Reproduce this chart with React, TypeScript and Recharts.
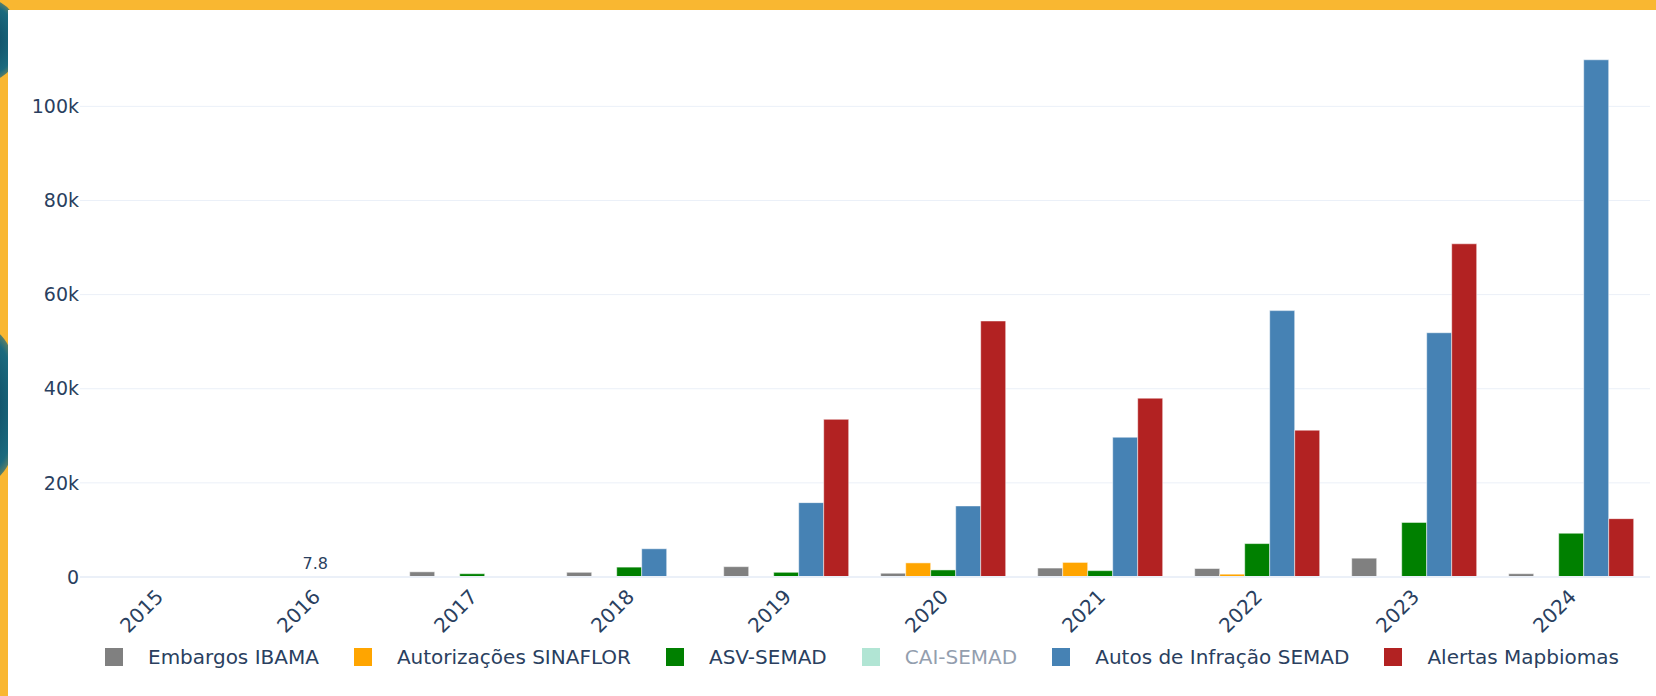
import { BarChart, Bar, XAxis, YAxis, CartesianGrid, ReferenceLine, LabelList } from 'recharts';

// ── Data ──────────────────────────────────────────────────────────────────────

const years = ['2015', '2016', '2017', '2018', '2019', '2020', '2021', '2022', '2023', '2024'];

const embargosIbama    = [40, 60, 1100, 1000, 2200, 800, 1900, 1800, 4000, 700];
const autorizacoes     = [0, 0, 0, 100, 100, 3000, 3100, 600, 0, 0];
const asvSemad         = [0, 7.8, 700, 2100, 1000, 1500, 1350, 7100, 11600, 9300];
const autosInfracao    = [0, 0, 0, 6000, 15800, 15100, 29700, 56600, 51900, 109900];
const alertasMapbiomas = [0, 0, 0, 0, 33500, 54400, 38000, 31200, 70800, 12400];

// text shown above the ASV-SEMAD bars
const asvText = ['', '7.8', '', '', '', '', '', '', '', ''];

const yTicks = [0, 20000, 40000, 60000, 80000, 100000];

const series = [
    { key: 'embargos', name: 'Embargos IBAMA',          color: '#808080', hidden: false },
    { key: 'sinaflor', name: 'Autorizações SINAFLOR',   color: '#FFA500', hidden: false },
    { key: 'asv',      name: 'ASV-SEMAD',               color: '#008000', hidden: false },
    { key: 'cai',      name: 'CAI-SEMAD',               color: '#66CDAA', hidden: true },
    { key: 'autos',    name: 'Autos de Infração SEMAD', color: '#4682B4', hidden: false },
    { key: 'alertas',  name: 'Alertas Mapbiomas',       color: '#B22222', hidden: false },
];

const data = years.map((year, i) => ({
    year,
    embargos: embargosIbama[i],
    sinaflor: autorizacoes[i],
    asv:      asvSemad[i],
    asvLabel: asvText[i],
    autos:    autosInfracao[i],
    alertas:  alertasMapbiomas[i],
}));

const FONT = '"DejaVu Sans", Verdana, sans-serif';
const TEXT = '#2a3f5f';
const GRID = '#EBF0F8';

// ── Ticks / labels ────────────────────────────────────────────────────────────

function YearTick({ x, y, payload }: any) {
    const px = x + 6;
    const py = y + 21;
    return (
        <text
            x={px}
            y={py}
            transform={`rotate(-45, ${px}, ${py})`}
            textAnchor="end"
            fill={TEXT}
            fontSize={20}
            fontFamily={FONT}
        >
            {payload.value}
        </text>
    );
}

function AsvLabel({ x, y, width, value }: any) {
    if (!value) return null;
    return (
        <text
            x={x + width / 2}
            y={y - 8}
            textAnchor="middle"
            fill={TEXT}
            fontSize={16}
            fontFamily={FONT}
        >
            {value}
        </text>
    );
}

function Legend() {
    return (
        <div
            style={{
                position: 'absolute',
                left: 105,
                top: 648,
                display: 'flex',
                alignItems: 'center',
                fontFamily: FONT,
                fontSize: 20,
                color: TEXT,
                whiteSpace: 'nowrap',
            }}
        >
            {series.map((s) => (
                <div
                    key={s.key}
                    style={{
                        display: 'flex',
                        alignItems: 'center',
                        marginRight: 35,
                        opacity: s.hidden ? 0.5 : 1,
                    }}
                >
                    <span
                        style={{
                            width: 18,
                            height: 18,
                            background: s.color,
                            marginRight: 25,
                            display: 'inline-block',
                        }}
                    />
                    <span style={{ lineHeight: '18px' }}>{s.name}</span>
                </div>
            ))}
        </div>
    );
}

// ── Component ─────────────────────────────────────────────────────────────────

export default function App() {
    return (
        <div
            style={{
                position: 'absolute',
                left: 0,
                top: 0,
                width: 1656,
                height: 696,
                overflow: 'hidden',
                background: '#F9B731',
            }}
        >
            {/* dark bits of the backdrop peeking out on the left */}
            <div style={{ position: 'absolute', left: -40, top: 0, width: 60, height: 80, borderRadius: '50%', background: 'radial-gradient(#0d4a63, #1b6a7e 60%, rgba(249,183,49,0) 100%)' }} />
            <div style={{ position: 'absolute', left: -40, top: 330, width: 60, height: 150, borderRadius: '50%', background: 'radial-gradient(#0d4a63, #1b6a7e 60%, rgba(249,183,49,0) 100%)' }} />

            <div style={{ position: 'absolute', left: 8, top: 10, right: 0, bottom: 0, background: '#fff' }} />

            <div style={{ position: 'absolute', left: 0, top: 0 }}>
                <BarChart
                    width={1656}
                    height={696}
                    data={data}
                    margin={{ top: 32, right: 6, left: 10, bottom: 0 }}
                    barCategoryGap="10%"
                    barGap={0}
                >
                    <CartesianGrid
                        horizontal
                        vertical={false}
                        horizontalValues={yTicks}
                        stroke={GRID}
                        strokeWidth={1}
                    />
                    <XAxis
                        dataKey="year"
                        height={119}
                        axisLine={false}
                        tickLine={false}
                        tickSize={0}
                        tickMargin={0}
                        interval={0}
                        tick={<YearTick />}
                    />
                    <YAxis
                        width={70}
                        domain={[0, 115800]}
                        ticks={yTicks}
                        axisLine={false}
                        tickLine={false}
                        tickSize={0}
                        tickMargin={1}
                        tickFormatter={(v: number) => (v === 0 ? '0' : `${v / 1000}k`)}
                        tick={{ fill: TEXT, fontSize: 19, fontFamily: FONT }}
                    />
                    <ReferenceLine y={0} stroke={GRID} strokeWidth={2} />
                    {series.filter((s) => !s.hidden).map((s) => (
                        <Bar
                            key={s.key}
                            dataKey={s.key}
                            name={s.name}
                            fill={s.color}
                            stroke="#fff"
                            strokeWidth={0.5}
                            isAnimationActive={false}
                        >
                            {s.key === 'asv' && <LabelList dataKey="asvLabel" content={<AsvLabel />} />}
                        </Bar>
                    ))}
                </BarChart>
            </div>

            <Legend />
        </div>
    );
}
